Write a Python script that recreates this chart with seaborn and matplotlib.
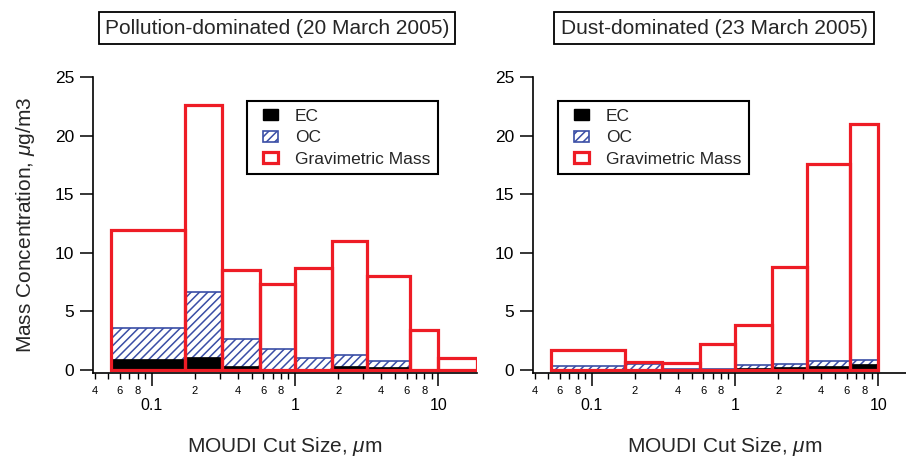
import numpy as np
import matplotlib
matplotlib.use("Agg")
import matplotlib.pyplot as plt
import matplotlib.patches as mpatches
import seaborn as sns
from matplotlib.legend_handler import HandlerPatch
from matplotlib.ticker import FixedLocator, FuncFormatter

# ---------------- data ----------------
edges_poll = [0.052, 0.172, 0.31, 0.57, 1.0, 1.82, 3.2, 6.3, 10, 18.5]
mass_poll = [11.9, 22.6, 8.5, 7.35, 8.7, 10.95, 8.0, 3.4, 1.0]
oc_poll = [3.55, 6.6, 2.6, 1.8, 1.0, 1.25, 0.7, 0.0, 0.0]
ec_poll = [0.9, 1.1, 0.3, 0.05, 0.1, 0.3, 0.2, 0.0, 0.0]

edges_dust = [0.052, 0.172, 0.31, 0.57, 1.0, 1.82, 3.2, 6.3, 10]
mass_dust = [1.65, 0.65, 0.55, 2.2, 3.8, 8.8, 17.6, 21.0]
oc_dust = [0.3, 0.45, 0.1, 0.1, 0.4, 0.5, 0.7, 0.8]
ec_dust = [0.1, 0.1, 0.05, 0.05, 0.15, 0.25, 0.35, 0.45]

titles = ["Pollution-dominated (20 March 2005)", "Dust-dominated (23 March 2005)"]
series_labels = ["EC", "OC", "Gravimetric Mass"]
major_ticks = [0.1, 1, 10]
major_labels = ["0.1", "1", "10"]
y_ticks = [0, 5, 10, 15, 20, 25]

RED = "#ee1c25"
BLUE = "#3a4ea6"

sns.set_theme(style="ticks")
plt.rcParams["font.family"] = ["Liberation Sans", "DejaVu Sans"]
plt.rcParams["mathtext.fontset"] = "custom"
plt.rcParams["mathtext.rm"] = "Liberation Sans"
plt.rcParams["mathtext.it"] = "Liberation Sans:italic"
plt.rcParams["hatch.linewidth"] = 1.1

fig = plt.figure(figsize=(9.06, 4.58), dpi=100)
ax_bottom = 1 - 372.6 / 458
ax_h = (372.6 - 77) / 458
axL = fig.add_axes([93 / 906, ax_bottom, 384 / 906, ax_h])
axR = fig.add_axes([533 / 906, ax_bottom, 384 / 906, ax_h])


def minor_fmt(v, pos):
    if v <= 0:
        return ""
    d = int(round(v / 10 ** np.floor(np.log10(v) + 1e-9)))
    return str(d) if d in (2, 4, 6, 8) else ""


class RightPatch(HandlerPatch):
    """Small square handle drawn at the right end of the handle box."""
    def create_artists(self, legend, orig_handle, xdescent, ydescent,
                       width, height, fontsize, trans):
        w = 10.8
        p = mpatches.Rectangle((-xdescent + width - w, -ydescent), w, height)
        self.update_prop(p, orig_handle, legend)
        p.set_transform(trans)
        return [p]


def draw(ax, edges, mass, oc, ec):
    edges = np.asarray(edges, float)
    mids = np.sqrt(edges[:-1] * edges[1:])
    logb = np.log10(edges).tolist()
    sns.histplot(x=mids, weights=np.asarray(oc, float), bins=logb, log_scale=True, ax=ax,
                 element="bars", fill=True, facecolor="white",
                 edgecolor=BLUE, hatch="////", linewidth=1.2)
    sns.histplot(x=mids, weights=np.asarray(ec, float), bins=logb, log_scale=True, ax=ax,
                 element="bars", fill=True, facecolor="black",
                 edgecolor="black", linewidth=0.5)
    sns.histplot(x=mids, weights=np.asarray(mass, float), bins=logb, log_scale=True, ax=ax,
                 element="bars", fill=False, color=RED, linewidth=2.3)

    ax.set_xlim(0.039, 18.6)
    ax.set_ylim(-0.25, 25)
    ax.set_yticks(y_ticks)
    ax.xaxis.set_major_locator(FixedLocator(major_ticks))
    ax.xaxis.set_major_formatter(FuncFormatter(
        lambda v, p: major_labels[major_ticks.index(v)] if v in major_ticks else ""))
    minor = [m * 10.0 ** e for e in (-2, -1, 0, 1) for m in range(2, 10)]
    ax.xaxis.set_minor_locator(FixedLocator(minor))
    ax.xaxis.set_minor_formatter(FuncFormatter(minor_fmt))
    ax.tick_params(axis="x", which="major", direction="out", length=9.5,
                   width=1.1, labelsize=11.5, pad=8.5, colors="black")
    ax.tick_params(axis="x", which="minor", direction="out", length=4,
                   width=1.0, labelsize=8, pad=5.5, colors="black")
    ax.tick_params(axis="y", which="major", direction="out", length=9.5,
                   width=1.1, labelsize=12.5, pad=4, colors="black")
    for s in ("top", "right"):
        ax.spines[s].set_visible(False)
    for s in ("left", "bottom"):
        ax.spines[s].set_linewidth(1.2)
        ax.spines[s].set_color("black")
    ax.set_facecolor("white")
    ax.set_xlabel(r"MOUDI Cut Size, $\mu$m", fontsize=15, labelpad=16)
    ax.set_ylabel("")

    handles = [
        mpatches.Patch(facecolor="black", edgecolor="black"),
        mpatches.Patch(facecolor="white", edgecolor=BLUE, hatch="////", linewidth=1.2),
        mpatches.Patch(facecolor="white", edgecolor=RED, linewidth=2.3),
    ]
    return handles


hL = draw(axL, edges_poll, mass_poll, oc_poll, ec_poll)
hR = draw(axR, edges_dust, mass_dust, oc_dust, ec_dust)
axL.set_ylabel(r"Mass Concentration, $\mu$g/m3", fontsize=15, labelpad=13)

for ax, h, x0 in ((axL, hL, 0.401), (axR, hR, 0.065)):
    leg = ax.legend(h, series_labels, loc="upper left", bbox_to_anchor=(x0, 0.918),
                    borderaxespad=0, fontsize=12.5, frameon=True, fancybox=False,
                    framealpha=1, edgecolor="black", borderpad=0.45,
                    handlelength=1.32, handleheight=0.6, handletextpad=0.98,
                    labelspacing=0.36,
                    handler_map={mpatches.Patch: RightPatch()})
    leg.get_frame().set_linewidth(1.5)

for txt, cx in zip(titles, (277 / 906, 714 / 906)):
    fig.text(cx, 1 - 28 / 458, txt, ha="center", va="center", fontsize=15,
             bbox=dict(boxstyle="square,pad=0.3", facecolor="white",
                       edgecolor="black", linewidth=1.3))

fig.savefig("out.png", dpi=100, facecolor="white")
